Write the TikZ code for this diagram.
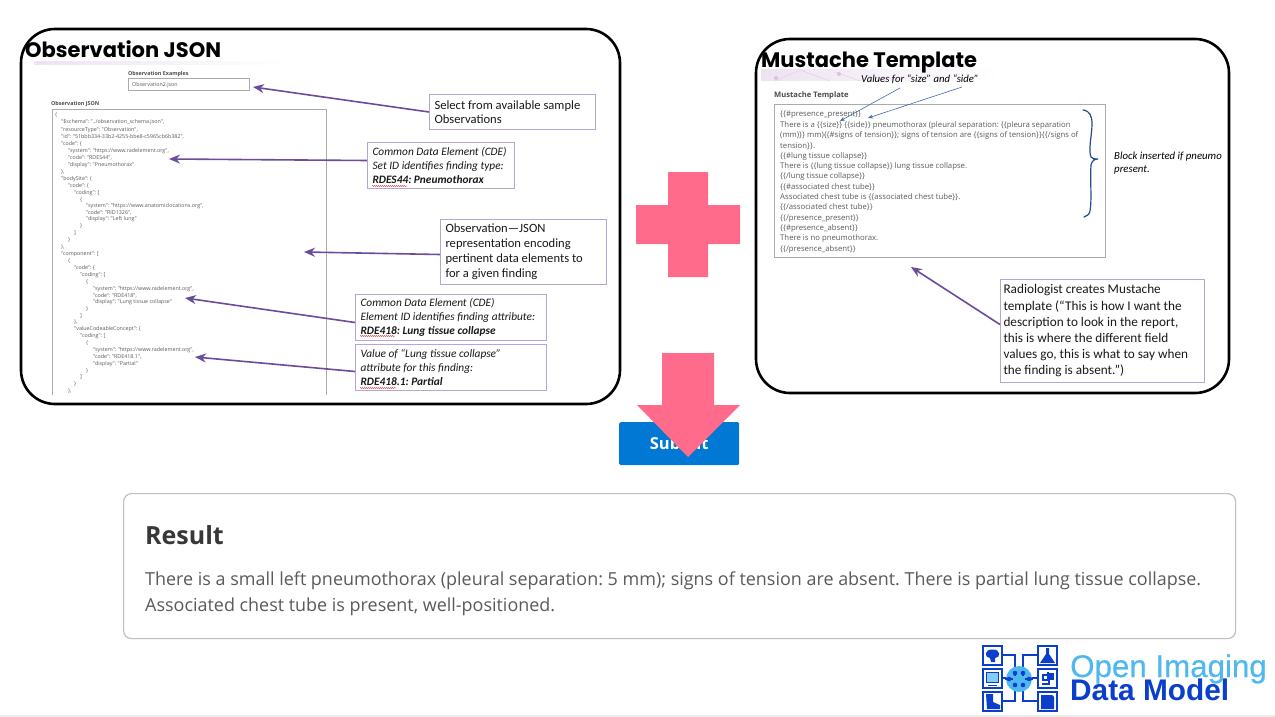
\documentclass[tikz,border=0pt]{standalone}
\usepackage{fontspec}
\setmainfont{Carlito}
\newfontfamily\uifont{Open Sans}
\newfontfamily\titlefont{Poppins}
\newfontfamily\logofont[FakeBold=0.5]{Liberation Sans}
\newfontfamily\logoboldfont{Liberation Sans}
\usetikzlibrary{arrows.meta,decorations.pathmorphing}
\AtBeginDocument{\frenchspacing}
\definecolor{arrowpurple}{HTML}{6A4C9C}
\definecolor{calloutedge}{HTML}{B7A5D6}
\definecolor{pinkshape}{HTML}{FF6B8B}
\definecolor{submitblue}{HTML}{0078D4}
\definecolor{uigray}{HTML}{5A5A5A}
\definecolor{fieldedge}{HTML}{ABABAB}
\definecolor{noteblue}{HTML}{3F6BA6}
\definecolor{bracketblue}{HTML}{1F4E8C}
\definecolor{logoblue}{HTML}{0B3FCB}
\definecolor{logosky}{HTML}{4FB9EF}
\definecolor{striplilac}{HTML}{EDE3F1}
\tikzset{
  x=1pt,y=-1pt,
  panel/.style={draw=black,line width=2.6pt,fill=white,rounded corners=34pt},
  paneltitle/.style={anchor=base west,inner sep=0pt,font=\titlefont\bfseries\fontsize{21}{25}\selectfont},
  callout/.style={draw=calloutedge,line width=1pt,fill=white,anchor=north west,inner xsep=5pt,inner ysep=0pt,align=flush left,text=black!90},
  pointer/.style={draw=arrowpurple,line width=1.6pt,-{Stealth[length=11pt,width=9pt]}},
  thinpointer/.style={draw=noteblue,line width=.6pt,-{Stealth[length=5pt,width=4pt]}},
  jsonline/.style={anchor=base west,inner sep=0pt,text=uigray,font=\uifont\fontsize{5.35}{6}\selectfont},
  tmplline/.style={anchor=base west,inner sep=0pt,text=uigray,font=\uifont\fontsize{7.75}{9}\selectfont},
  uilabel/.style={anchor=base west,inner sep=0pt,text=uigray!85!black,font=\uifont\bfseries\fontsize{5.4}{6}\selectfont},
  note/.style={anchor=base west,inner sep=0pt,text=black,font=\itshape\fontsize{10.7}{12}\selectfont},
  squiggle/.style={draw=red!75!black,line width=.35pt,decorate,decoration={snake,amplitude=.4pt,segment length=2pt}},
  pinkfill/.style={fill=pinkshape,draw=none},
  logoline/.style={draw=logoblue,line width=1.2pt},
  logosquare/.style={draw=logoblue,line width=1.8pt,fill=white},
  logodot/.style={fill=logoblue,draw=none},
}
\begin{document}
\begin{tikzpicture}
\useasboundingbox (0,0) rectangle (1275,717);
\fill[white] (0,0) rectangle (1275,717);
\fill[black!8] (0,715) rectangle (1275,717);

% ---------- left panel
\draw[panel] (21,29) rectangle (620,404);
\shade[left color=striplilac,right color=white] (34,62) rectangle (290,65);
\node[paneltitle] (titleobs) at (25,58) {Observation JSON};
\node[uilabel] (labelexamples) at (128,75) {Observation Examples};
\node[draw=fieldedge,line width=.6pt,anchor=north west,minimum width=121pt,minimum height=12pt,inner sep=0pt] (samplefield) at (128,78.5) {};
\node[jsonline] (samplevalue) at (132,87) {Observation2.json};
\node[uilabel] (labeljson) at (51,105) {Observation JSON};
\draw[fieldedge,line width=.6pt] (52,395) -- (52,109) -- (326,109) -- (326,395);
\foreach \xx/\yy/\tt [count=\i] in {
 55/117/{\{},
 61/124/{"\$schema": "../observation\_schema.json",},
 61/131/{"resourceType": "Observation",},
 61/138/{"id": "51bbb334-33b2-4255-bbe8-c5965cb6b382",},
 61/145/{"code": \{},
 68/152/{"system": "https://www.radelement.org",},
 68/159/{"code": "RDES44",},
 68/166/{"display": "Pneumothorax"},
 61/173/{\},},
 61/180/{"bodySite": \{},
 68/187/{"code": \{},
 74/194/{"coding": [},
 80/201/{\{},
 86/207/{"system": "https://www.anatomiclocations.org",},
 86/214/{"code": "RID1326",},
 86/220/{"display": "Left lung"},
 80/227/{\}},
 74/234/{]},
 68/241/{\}},
 61/248/{\},},
 61/255/{"component": [},
 68/262/{\{},
 74/269/{"code": \{},
 80/276/{"coding": [},
 86/283/{\{},
 93/290/{"system": "https://www.radelement.org",},
 93/297/{"code": "RDE418",},
 93/303/{"display": "Lung tissue collapse"},
 86/310/{\}},
 80/317/{]},
 74/323/{\},},
 74/330/{"valueCodeableConcept": \{},
 80/337/{"coding": [},
 86/344/{\{},
 93/351/{"system": "https://www.radelement.org",},
 93/358/{"code": "RDE418.1",},
 93/365/{"display": "Partial"},
 86/372/{\}},
 80/378/{]},
 74/385/{\}},
 68/392/{\},}}
 {\node[jsonline] (json\i) at (\xx,\yy) {\tt};}

\node[callout,minimum width=166pt,minimum height=35pt,text width=156pt,font=\fontsize{12.6}{14.5}\selectfont] (selectbox) at (429,94)
 {Select from available sample\\Observations};
\node[callout,minimum width=147pt,minimum height=46pt,text width=137pt,font=\fontsize{11.35}{13.7}\selectfont] (setidbox) at (367,142)
 {\textit{Common Data Element (CDE)}\\\textit{Set ID identifies finding type:}\\\textbf{\textit{RDES44: Pneumothorax}}};
\node[callout,minimum width=166pt,minimum height=65pt,text width=156pt,font=\fontsize{12.6}{15}\selectfont] (obsbox) at (440,219)
 {Observation—JSON\\representation encoding\\pertinent data elements to\\for a given finding};
\node[callout,minimum width=191pt,minimum height=46pt,text width=181pt,font=\fontsize{11.35}{13.7}\selectfont] (elembox) at (355,294)
 {\textit{Common Data Element (CDE)}\\\textit{Element ID identifies finding attribute:}\\\textbf{\textit{RDE418: Lung tissue collapse}}};
\node[callout,minimum width=191pt,minimum height=46pt,text width=181pt,font=\fontsize{11.35}{13.7}\selectfont] (valuebox) at (355,344)
 {\textit{Value of “Lung tissue collapse”}\\\textit{attribute for this finding:}\\\textbf{\textit{RDE418.1: Partial}}};
\draw[squiggle] (372,186) -- (407,186);
\draw[squiggle] (360,336) -- (395,336);
\draw[squiggle] (360,388) -- (396,388);

\coordinate (tipselect) at (253,87);
\coordinate (tipset) at (169,159);
\coordinate (tipobs) at (304,252);
\coordinate (tipelem) at (185,298);
\coordinate (tipvalue) at (195,357);
\draw[pointer] (selectbox.west) -- (tipselect);
\draw[pointer] ([yshift=5pt]setidbox.west) -- (tipset);
\draw[pointer] ([yshift=-2.5pt]obsbox.west) -- (tipobs);
\draw[pointer] ([yshift=-5pt]elembox.west) -- (tipelem);
\draw[pointer] ([yshift=-4pt]valuebox.west) -- (tipvalue);

% ---------- right panel
\draw[panel] (756,39) rectangle (1229,393);
\shade[left color=striplilac,right color=white] (761,70) rectangle (1000,81);
\foreach \a/\b/\c/\d in {775/81/800/70, 800/70/830/81, 835/72/860/81}
  \draw[violet!18,line width=.6pt] (\a,\b) -- (\c,\d);
\fill[violet!25] (776,78) circle (2pt) (839,74) circle (2pt);
\node[paneltitle] (titletmpl) at (761,68) {Mustache Template};
\node[uilabel,font=\uifont\bfseries\fontsize{7.6}{8}\selectfont] (labeltmpl) at (774,98) {Mustache Template};
\node[note] (valuesnote) at (861,83) {Values for “size” and “side”};
\node[draw=fieldedge,line width=.7pt,anchor=north west,minimum width=331pt,minimum height=153pt,inner sep=0pt] (tmplfield) at (774,104) {};
\foreach \yy/\tt [count=\i] in {
 117/{\{\{\#presence\_present\}\}},
 127.5/{There is a \{\{size\}\} \{\{side\}\} pneumothorax (pleural separation: \{\{pleura separation},
 137.5/{(mm)\}\} mm)\{\{\#signs of tension\}\}; signs of tension are \{\{signs of tension\}\}\{\{/signs of},
 148/{tension\}\}.},
 158/{\{\{\#lung tissue collapse\}\}},
 168.5/{There is \{\{lung tissue collapse\}\} lung tissue collapse.},
 178.5/{\{\{/lung tissue collapse\}\}},
 189/{\{\{\#associated chest tube\}\}},
 199/{Associated chest tube is \{\{associated chest tube\}\}.},
 209.5/{\{\{/associated chest tube\}\}},
 220/{\{\{/presence\_present\}\}},
 230/{\{\{\#presence\_absent\}\}},
 240.5/{There is no pneumothorax.},
 251/{\{\{/presence\_absent\}\}}}
 {\node[tmplline] (tmpl\i) at (780,\yy) {\tt};}

\coordinate (sizetail) at (900,88);
\coordinate (sizetip) at (840,121);
\coordinate (sidetail) at (962,87);
\coordinate (sidetip) at (868,118);
\draw[thinpointer] (sizetail) -- (sizetip);
\draw[thinpointer] (sidetail) -- (sidetip);
\draw[bracketblue,line width=1.2pt,line cap=round]
  (1083,110) .. controls (1090,111) and (1092,116) .. (1092,124)
  .. controls (1092,135) and (1088,150) .. (1091,157)
  .. controls (1092,159) and (1095,159) .. (1098,159)
  .. controls (1094,159) and (1092,161) .. (1091,165)
  .. controls (1090,180) and (1092,200) .. (1090,211)
  .. controls (1089,215) and (1087,216) .. (1084,217);
\node[note,font=\itshape\fontsize{10.8}{12}\selectfont] (blocknote1) at (1114,159) {Block inserted if pneumo};
\node[note,font=\itshape\fontsize{10.8}{12}\selectfont] (blocknote2) at (1114,172) {present.};

\node[callout,inner xsep=3pt,minimum width=204pt,minimum height=103pt,text width=198pt,font=\fontsize{13.25}{16.2}\selectfont] (radbox) at (1000,279)
 {Radiologist creates Mustache\\template (“This is how I want the\\description to look in the report,\\this is where the different field\\values go, this is what to say when\\the finding is absent.”)};
\coordinate (tiprad) at (911,267);
\draw[pointer] ([yshift=6.5pt]radbox.west) -- (tiprad);

% ---------- plus
\fill[pinkfill] (668,172) -- (708,172) -- (708,205) -- (740,205) -- (740,244) -- (708,244)
  -- (708,277) -- (668,277) -- (668,244) -- (636,244) -- (636,205) -- (668,205) -- cycle;

% ---------- submit and arrow
\node[fill=submitblue,rounded corners=1.5pt,anchor=north west,minimum width=120pt,minimum height=43pt,inner sep=0pt,
  text=white,font=\uifont\bfseries\fontsize{16.5}{18}\selectfont] (submitbtn) at (619,422) {Submit};
\fill[pinkfill] (662,353) -- (714,353) -- (714,405) -- (740,405) -- (688,457) -- (637,405) -- (662,405) -- cycle;

% ---------- result
\node[draw=black!25,line width=1.2pt,fill=white,rounded corners=8pt,anchor=north west,minimum width=1112pt,minimum height=145pt,inner sep=0pt] (resultbox) at (123,493) {};
\node[anchor=base west,inner sep=0pt,text=black!78,font=\uifont\bfseries\fontsize{25}{28}\selectfont] (resulttitle) at (145,544) {Result};
\node[anchor=base west,inner sep=0pt,text=uigray,font=\uifont\fontsize{17.95}{20}\selectfont] (resultline1) at (145,585)
 {There is a small left pneumothorax (pleural separation: 5 mm); signs of tension are absent. There is partial lung tissue collapse.};
\node[anchor=base west,inner sep=0pt,text=uigray,font=\uifont\fontsize{17.95}{20}\selectfont] (resultline2) at (145,611)
 {Associated chest tube is present, well-positioned.};

% ---------- logo
\draw[logoline] (1002,655) -- (1015,655) -- (1015,672);
\draw[logoline] (1002,678) -- (1038,678);
\draw[logoline] (1002,701) -- (1015,701) -- (1015,686);
\draw[logoline] (1038,655) -- (1023,655) -- (1023,672);
\draw[logoline] (1038,701) -- (1023,701) -- (1023,686);
\fill[logosky] (1019,679) circle (13);
\draw[logoline] (1015,672) -- (1015,686) (1023,672) -- (1023,686) (1005,679) -- (1033,679);
\fill[logosky] (1013,675.5) rectangle (1025,682.5);
\foreach \a/\b in {1015/673,1023/673,1015/685,1023/685,1009/679,1029/679}
  \fill[logodot] (\a,\b) circle (2.3);
\foreach \a/\b in {983/646,983/669,983/692,1038/646,1038/669,1038/692}
  \draw[logosquare] (\a,\b) rectangle ++(19,19);
% brain
\fill[logoblue] (992.5,649.5) .. controls (984,649) and (984,658) .. (990,658) -- (991,662) -- (995,662) -- (995,658)
  .. controls (1001,658) and (1001,649) .. (992.5,649.5) -- cycle;
% monitor
\fill[logosky!70!white] (986.5,673) rectangle (998.5,682);
\draw[logoblue,line width=1pt] (986.5,672.5) rectangle (998.5,682) (988,685) -- (997,685);
% boot
\fill[logoblue] (986,694) -- (993,694) -- (993,702) -- (1000,705) -- (1000,709) -- (987,709) -- cycle;
% flask
\fill[logoblue] (1046,648) -- (1049,648) -- (1049,654) -- (1055,663) -- (1040,663) -- (1046,654) -- cycle;
% stomach
\draw[logoblue,line width=1.5pt] (1048,672) -- (1048,675) -- (1043,675) -- (1043,680) -- (1049,680) -- (1049,684) -- (1042,684);
\fill[logoblue] (1047,673) rectangle (1054,680);
% document
\fill[logoblue] (1041,695) -- (1052,695) -- (1054,697) -- (1054,709) -- (1041,709) -- cycle;

\node[anchor=base west,inner sep=0pt,text=logosky,font=\logofont\fontsize{31.3}{33}\selectfont] (logotop) at (1070,677) {Open Imaging};
\node[anchor=base west,inner sep=0pt,text=logoblue,font=\logoboldfont\bfseries\fontsize{29.8}{30}\selectfont] (logobottom) at (1070,700) {Data Model};
\end{tikzpicture}
\end{document}
